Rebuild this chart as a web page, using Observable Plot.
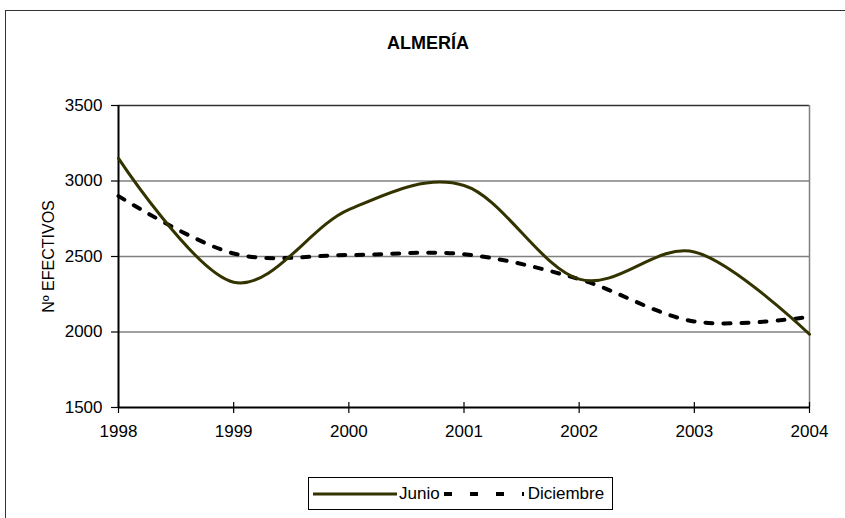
<!DOCTYPE html>
<html><head><meta charset="utf-8">
<script src="https://cdn.jsdelivr.net/npm/d3@7"></script>
<script src="https://cdn.jsdelivr.net/npm/@observablehq/plot@0.6"></script>
<style>
body{margin:0;background:#fff;font-family:"Liberation Sans",Arial,sans-serif;}
#wrap{position:relative;width:845px;height:518px;overflow:hidden;background:#fff;}
#border{position:absolute;left:5px;top:10px;width:900px;height:600px;border:1.5px solid #333;box-sizing:border-box;}
#title{position:absolute;left:0;width:856px;top:33px;text-align:center;font-weight:bold;font-size:18px;line-height:20px;color:#000;}
#chart{position:absolute;left:0;top:0;}
#legend{position:absolute;left:308px;top:477px;width:305px;height:33px;border:1px solid #000;box-sizing:border-box;display:flex;align-items:center;font-size:17px;color:#000;}
#legend svg{display:block;}
</style>
</head><body>
<div id="wrap">
  <div id="border"></div>
  <div id="title">ALMERÍA</div>
  <div id="chart"></div>
  <div id="legend"></div>
</div>
<script>
const years = [1998, 1999, 2000, 2001, 2002, 2003, 2004];
const junio = [3150, 2330, 2810, 2970, 2350, 2530, 1985];
const diciembre = [2900, 2520, 2510, 2515, 2350, 2070, 2100];
const yTicks = [1500, 2000, 2500, 3000, 3500];
const gridValues = [2000, 2500, 3000];
const seriesNames = ["Junio", "Diciembre"];
const yLabel = "Nº EFECTIVOS";

const junioData = years.map((x, i) => ({x, y: junio[i]}));
const dicData = years.map((x, i) => ({x, y: diciembre[i]}));
const x0 = years[0], x1 = years[years.length - 1];
const y0 = yTicks[0], y1 = yTicks[yTicks.length - 1];

const chart = Plot.plot({
  width: 845,
  height: 518,
  marginLeft: 118,
  marginRight: 36,
  marginTop: 105,
  marginBottom: 111,
  x: {domain: [x0, x1]},
  y: {domain: [y0, y1]},
  style: {fontFamily: "'Liberation Sans', Arial, sans-serif", fontSize: "17px", color: "#000", background: "transparent", overflow: "visible"},
  marks: [
    Plot.ruleY(gridValues, {stroke: "#808080", strokeWidth: 1.5}),
    Plot.ruleY([y1], {stroke: "#333", strokeWidth: 1.5}),
    Plot.ruleX([x1], {stroke: "#808080", strokeWidth: 1.5}),
    Plot.axisY({ticks: yTicks, tickSize: 7, tickPadding: 9, tickFormat: d => String(d), label: null, stroke: "#000", strokeWidth: 1.2}),
    Plot.axisY({ticks: [], tickSize: 0, label: yLabel, labelAnchor: "center", labelOffset: 76, labelArrow: "none", fontSize: 16}),
    Plot.axisX({ticks: years, tickSize: 11, dy: -5, tickPadding: 11, tickFormat: d => String(d), label: null, stroke: "#000", strokeWidth: 1.2}),
    Plot.ruleX([x0], {stroke: "#000", strokeWidth: 2}),
    Plot.ruleY([y0], {stroke: "#000", strokeWidth: 2}),
    Plot.line(dicData, {x: "x", y: "y", curve: "cardinal", tension: 0, stroke: "#000", strokeWidth: 4, strokeDasharray: "7,11"}),
    Plot.line(junioData, {x: "x", y: "y", curve: "cardinal", tension: 0, stroke: "#333300", strokeWidth: 3})
  ]
});
document.getElementById("chart").appendChild(chart);

const legend = document.getElementById("legend");
legend.innerHTML =
  `<svg width="84" height="10" style="margin-left:4px"><line x1="0" y1="5" x2="84" y2="5" stroke="#333300" stroke-width="3"/></svg>` +
  `<span style="margin-left:2px">${seriesNames[0]}</span>` +
  `<svg width="80" height="10" style="margin-left:4px"><line x1="0" y1="5" x2="80" y2="5" stroke="#000" stroke-width="4" stroke-dasharray="8,18"/></svg>` +
  `<span style="margin-left:4px">${seriesNames[1]}</span>`;
</script>
</body></html>
